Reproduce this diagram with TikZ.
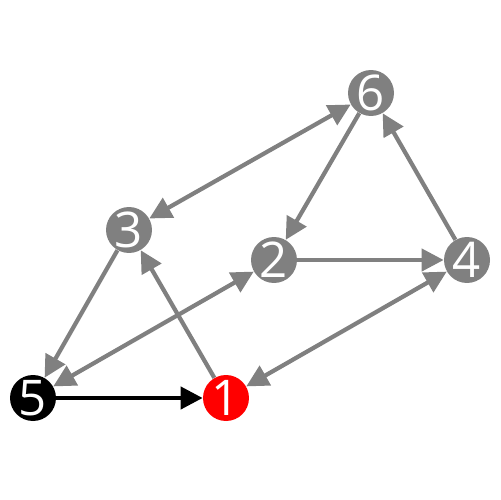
\documentclass[tikz,border=0pt]{standalone}
\usepackage{fontspec}
\setmainfont{Open Sans}
\usepackage{xcolor}
\usepackage{tikz}
\usetikzlibrary{arrows.meta}

\definecolor{edgegray}{HTML}{808080}

\begin{document}
\begin{tikzpicture}[x=0.02cm, y=-0.02cm,
    vert/.style={circle, fill=edgegray, text=white, inner sep=0pt,
      minimum size=0.92cm, font=\fontsize{28}{28}\selectfont},
    link/.style={draw=edgegray, line width=2.4pt,
      -{Triangle[length=4.4mm, width=4.4mm]}},
    both/.style={link, {Triangle[length=4.4mm, width=4.4mm]}-{Triangle[length=4.4mm, width=4.4mm]}}]
    \useasboundingbox (0,0) rectangle (500,500);
    \node[vert] (v6) at (371,93) {6};
    \node[vert] (v3) at (129,230) {3};
    \node[vert] (v2) at (274,260) {2};
    \node[vert] (v4) at (467,260) {4};
    \node[vert, fill=black] (v5) at (33,398) {5};
    \node[vert, fill=red] (v1) at (226,398) {1};
    \draw[both] (v3) -- (v6);
    \draw[link] (v6) -- (v2);
    \draw[link] (v4) -- (v6);
    \draw[link] (v2) -- (v4);
    \draw[both] (v1) -- (v4);
    \draw[link] (v1) -- (v3);
    \draw[link] (v3) -- (v5);
    \draw[both] (v5) -- (v2);
    \draw[link, draw=black] (v5) -- (v1);
  \end{tikzpicture}
\end{document}
